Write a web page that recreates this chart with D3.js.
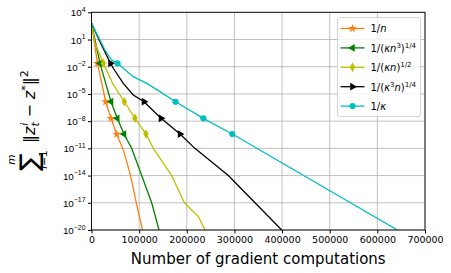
<!DOCTYPE html>
<html>
<head>
<meta charset="utf-8">
<script src="https://cdn.jsdelivr.net/npm/d3@7"></script>
<style>
  body { margin: 0; background: #fff; }
  svg { font-family: "DejaVu Sans", sans-serif; }
</style>
</head>
<body>
<div id="chart"></div>
<script>
// ticks
const xTicks = [0, 100000, 200000, 300000, 400000, 500000, 600000, 700000];
const yTickExps = [4, 1, -2, -5, -8, -11, -14, -17, -20];

// series: gradient computations vs log10 of sum ||z_t^i - z*||^2
const nX = [0, 12600, 29800, 40900, 52900, 67000, 82000, 94000, 107000];
const nY = [2.8, -1.63, -5.86, -7.69, -9.45, -11.2, -14, -17, -20];

const kn3X = [0, 17800, 40900, 54100, 68200, 84300, 105300, 126300, 141700];
const kn3Y = [2.8, -1.63, -5.86, -7.69, -9.42, -11, -14, -17, -20];

const knX = [0, 7300, 24800, 45000, 68900, 91300, 114400, 129800, 168300, 195000, 224000, 238500];
const knY = [2.8, 0.6, -1.63, -3.9, -5.86, -7.69, -9.42, -11, -14, -17, -18.5, -20];

const k3nX = [0, 20000, 39900, 45800, 66700, 87700, 110200, 145900, 185800, 217000, 287200, 343200, 399200];
const k3nY = [2.8, 0.5, -1.63, -2.17, -3.83, -5.12, -5.86, -7.69, -9.42, -11, -14, -17, -20];

const kX = [0, 14300, 28300, 42400, 54600, 66700, 87700, 115900, 143800, 176300, 234700, 295500, 642000];
const kY = [2.8, 1.31, -0.16, -1.26, -1.63, -2.17, -3.1, -3.83, -4.75, -5.86, -7.69, -9.42, -20];

// which points carry a marker
const nMarks = [1, 2, 3, 4];
const kn3Marks = [1, 2, 3, 4];
const knMarks = [2, 4, 5, 6];
const k3nMarks = [2, 6, 7, 8];
const kMarks = [4, 9, 10, 11];

const seriesColors = ['#ff7f0e', '#008000', '#bfbf00', '#000000', '#00bfbf'];
const seriesSymbols = ['star', 'left', 'diamond', 'right', 'circle'];
// legend labels as pieces: [text, italic, superscript]
const legendLabels = [
  [['1/', 0, 0], ['n', 1, 0]],
  [['1/(', 0, 0], ['κn', 1, 0], ['3', 0, 1], [')', 0, 0], ['1/4', 0, 1]],
  [['1/(', 0, 0], ['κn', 1, 0], [')', 0, 0], ['1/2', 0, 1]],
  [['1/(', 0, 0], ['κ', 1, 0], ['3', 0, 1], ['n', 1, 0], [')', 0, 0], ['1/4', 0, 1]],
  [['1/', 0, 0], ['κ', 1, 0]]
];

const series = [
  { x: nX, y: nY, marks: nMarks },
  { x: kn3X, y: kn3Y, marks: kn3Marks },
  { x: knX, y: knY, marks: knMarks },
  { x: k3nX, y: k3nY, marks: k3nMarks },
  { x: kX, y: kY, marks: kMarks }
];

const width = 451, height = 273;
const margin = { left: 91.5, right: 26, top: 12.3, bottom: 43 };
const plotW = width - margin.left - margin.right;
const plotH = height - margin.top - margin.bottom;

const svg = d3.select('#chart').append('svg')
  .attr('width', width).attr('height', height);

const g = svg.append('g')
  .attr('transform', `translate(${margin.left},${margin.top})`);

const xScale = d3.scaleLinear().domain([0, 700000]).range([0, plotW]);
const yScale = d3.scaleLog().domain([1e-20, 1e4]).range([plotH, 0]);

// grid
g.append('g').selectAll('line').data(xTicks).enter().append('line')
  .attr('x1', d => xScale(d)).attr('x2', d => xScale(d))
  .attr('y1', 0).attr('y2', plotH)
  .attr('stroke', '#b0b0b0').attr('stroke-width', 0.8);
g.append('g').selectAll('line').data(yTickExps).enter().append('line')
  .attr('x1', 0).attr('x2', plotW)
  .attr('y1', d => yScale(Math.pow(10, d))).attr('y2', d => yScale(Math.pow(10, d)))
  .attr('stroke', '#b0b0b0').attr('stroke-width', 0.8);

svg.append('clipPath').attr('id', 'clip')
  .append('rect').attr('width', plotW).attr('height', plotH);

const line = d3.line()
  .x(d => xScale(d[0]))
  .y(d => yScale(Math.pow(10, d[1])));

const symbolFor = (name) => {
  if (name === 'star') return d3.symbol().type(d3.symbolStar).size(24)();
  if (name === 'diamond') return d3.symbol().type(d3.symbolDiamond).size(26)();
  if (name === 'circle') return d3.symbol().type(d3.symbolCircle).size(30)();
  return d3.symbol().type(d3.symbolTriangle).size(26)();
};
const rotFor = (name) => name === 'left' ? -90 : (name === 'right' ? 90 : 0);

const plot = g.append('g').attr('clip-path', 'url(#clip)');
series.forEach((s, i) => {
  const pts = s.x.map((v, j) => [v, s.y[j]]);
  plot.append('path')
    .datum(pts)
    .attr('d', line)
    .attr('fill', 'none')
    .attr('stroke', seriesColors[i])
    .attr('stroke-width', 1.3);
  plot.selectAll(null)
    .data(s.marks.map(j => pts[j]))
    .enter().append('path')
    .attr('d', symbolFor(seriesSymbols[i]))
    .attr('transform', d => `translate(${xScale(d[0])},${yScale(Math.pow(10, d[1]))}) rotate(${rotFor(seriesSymbols[i])})`)
    .attr('fill', seriesColors[i]);
});

// axes
const xAxis = g.append('g')
  .attr('transform', `translate(0,${plotH})`)
  .call(d3.axisBottom(xScale).tickValues(xTicks).tickSize(3.5).tickPadding(2.5).tickFormat(d3.format('d')));
xAxis.selectAll('text').attr('font-size', '9.5px').attr('fill', '#000').attr('font-family', 'DejaVu Sans');

const yAxis = g.append('g')
  .call(d3.axisLeft(yScale).tickValues(yTickExps.map(e => Math.pow(10, e))).tickSize(3.5).tickFormat(''));
yAxis.selectAll('.tick').each(function (d) {
  const e = Math.round(Math.log10(d));
  const t = d3.select(this).append('text')
    .attr('x', -6).attr('y', 3.5)
    .attr('text-anchor', 'end')
    .attr('font-size', '9.8px')
    .attr('fill', '#000');
  t.append('tspan').text('10');
  t.append('tspan').attr('dy', -4.5).attr('font-size', '6.9px')
    .text(e < 0 ? '\u2212' + (-e) : String(e));
});

[xAxis, yAxis].forEach(a => a.selectAll('.domain').remove());
g.append('rect').attr('width', plotW).attr('height', plotH)
  .attr('fill', 'none').attr('stroke', '#000').attr('stroke-width', 0.9);

// x label
svg.append('text')
  .attr('x', margin.left + plotW / 2).attr('y', 263.5)
  .attr('text-anchor', 'middle')
  .attr('font-size', '15px')
  .text('Number of gradient computations');

// y label: sum_{i=1}^m ||z_t^i - z*||^2
const yl = svg.append('g').attr('transform', 'translate(37,171) rotate(-90)');
yl.append('text').attr('x', 0).attr('y', 1).attr('font-size', '26px').text('\u2211');
yl.append('text').attr('x', 11.5).attr('y', -22).attr('text-anchor', 'middle')
  .attr('font-size', '10.5px').attr('font-style', 'italic').text('m');
const il = yl.append('text').attr('x', 11.5).attr('y', 10).attr('text-anchor', 'middle').attr('font-size', '10.5px');
il.append('tspan').attr('font-style', 'italic').text('i');
il.append('tspan').text('=1');
const yt = yl.append('text').attr('x', 28).attr('y', -2).attr('font-size', '16px');
yt.append('tspan').text('\u2016');
yt.append('tspan').attr('font-style', 'italic').text('z');
yt.append('tspan').attr('font-size', '11px').attr('font-style', 'italic').attr('dy', 4).text('t');
yt.append('tspan').attr('font-size', '11px').attr('font-style', 'italic').attr('dx', -3.5).attr('dy', -11).text('i');
yt.append('tspan').attr('dy', 7).text(' \u2212 ');
yt.append('tspan').attr('font-style', 'italic').text('z');
yt.append('tspan').attr('font-size', '11px').attr('dy', -6).text('*');
yt.append('tspan').attr('dy', 6).text('\u2016');
yt.append('tspan').attr('font-size', '11px').attr('dy', -7).text('2');

// legend
const lg = svg.append('g').attr('transform', 'translate(337.5,17.5)');
lg.append('rect').attr('width', 83).attr('height', 99).attr('rx', 2.5)
  .attr('fill', 'rgba(255,255,255,0.8)').attr('stroke', '#cccccc').attr('stroke-width', 0.8);
legendLabels.forEach((parts, i) => {
  const yy = 11 + i * 19.4;
  const row = lg.append('g').attr('transform', `translate(0,${yy})`);
  row.append('line').attr('x1', 3).attr('x2', 27).attr('y1', 0).attr('y2', 0)
    .attr('stroke', seriesColors[i]).attr('stroke-width', 1.3);
  row.append('path').attr('d', symbolFor(seriesSymbols[i]))
    .attr('transform', `translate(15,0) rotate(${rotFor(seriesSymbols[i])})`)
    .attr('fill', seriesColors[i]);
  const t = row.append('text').attr('x', 33).attr('y', 3.8).attr('font-size', '10px');
  let up = false;
  parts.forEach(p => {
    const sp = t.append('tspan').text(p[0]);
    if (p[1]) sp.attr('font-style', 'italic');
    if (p[2] && !up) { sp.attr('dy', -4).attr('font-size', '7px'); up = true; }
    else if (p[2]) sp.attr('font-size', '7px');
    else if (up) { sp.attr('dy', 4); up = false; }
  });
});
</script>
</body>
</html>
